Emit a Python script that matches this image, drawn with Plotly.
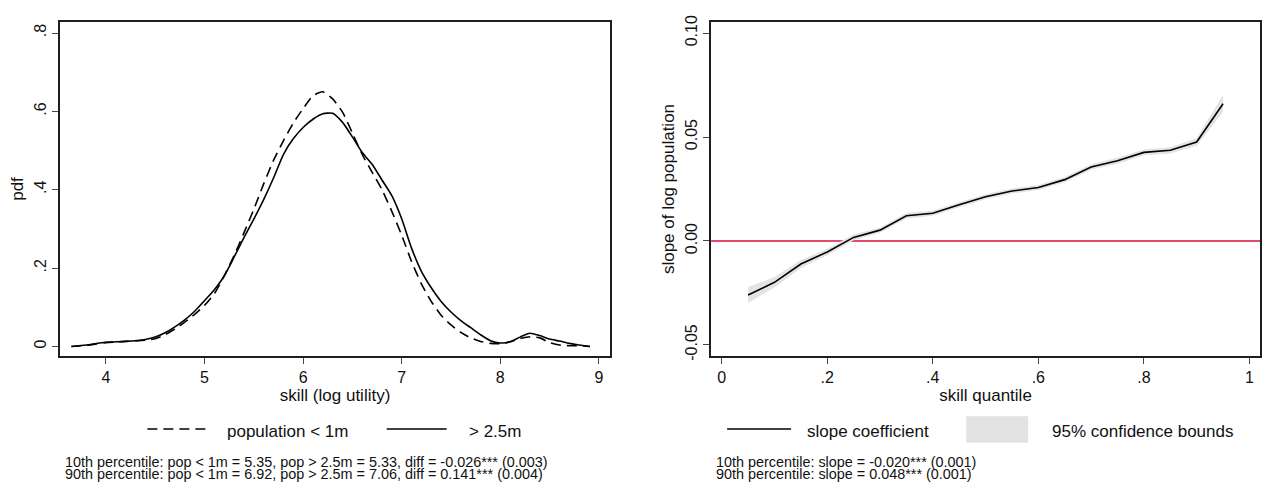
"""Two-panel figure: skill density by city size and slope of log population by skill quantile."""

from plotly import graph_objects as go

# ---- left panel: kernel densities of skill (log utility) ----
skill_grid = [3.65, 3.8, 4.0, 4.2, 4.4, 4.5, 4.6, 4.7, 4.8, 4.9,
              5.0, 5.1, 5.2, 5.3, 5.4, 5.5, 5.6, 5.7, 5.8, 5.9,
              6.0, 6.1, 6.2, 6.3, 6.4, 6.5, 6.6, 6.7, 6.8, 6.9,
              7.0, 7.1, 7.2, 7.3, 7.4, 7.5, 7.6, 7.7, 7.8, 7.9,
              8.0, 8.1, 8.2, 8.3, 8.4, 8.5, 8.6, 8.7, 8.8, 8.91]
pdf_small = [0.0, 0.003, 0.010, 0.013, 0.016, 0.020, 0.030, 0.045, 0.062, 0.082,
             0.105, 0.135, 0.180, 0.232, 0.290, 0.350, 0.415, 0.475, 0.525, 0.570,
             0.607, 0.640, 0.650, 0.632, 0.598, 0.545, 0.490, 0.445, 0.400, 0.345,
             0.284, 0.217, 0.160, 0.115, 0.080, 0.055, 0.036, 0.022, 0.013, 0.008,
             0.007, 0.012, 0.020, 0.025, 0.022, 0.010, 0.004, 0.002, 0.002, 0.0]
pdf_large = [0.0, 0.004, 0.011, 0.013, 0.018, 0.024, 0.035, 0.050, 0.068, 0.090,
             0.117, 0.145, 0.180, 0.228, 0.278, 0.325, 0.375, 0.430, 0.490, 0.530,
             0.559, 0.580, 0.594, 0.595, 0.572, 0.535, 0.495, 0.465, 0.425, 0.385,
             0.326, 0.251, 0.192, 0.150, 0.115, 0.088, 0.066, 0.048, 0.030, 0.015,
             0.009, 0.012, 0.024, 0.034, 0.028, 0.019, 0.014, 0.008, 0.004, 0.0]

# ---- right panel: quantile slopes with 95% bounds ----
quantiles = [0.05, 0.10, 0.15, 0.20, 0.25, 0.30, 0.35, 0.40, 0.45, 0.50,
             0.55, 0.60, 0.65, 0.70, 0.75, 0.80, 0.85, 0.90, 0.95]
slope = [-0.0260, -0.0199, -0.0111, -0.0053, 0.0017, 0.0052, 0.0121, 0.0133, 0.0174, 0.0213,
         0.0240, 0.0257, 0.0295, 0.0356, 0.0386, 0.0426, 0.0436, 0.0476, 0.0660]
slope_lo = [-0.0298, -0.0224, -0.0130, -0.0069, 0.0003, 0.0039, 0.0108, 0.0121, 0.0162, 0.0201,
            0.0228, 0.0245, 0.0282, 0.0343, 0.0372, 0.0412, 0.0421, 0.0458, 0.0620]
slope_hi = [-0.0222, -0.0174, -0.0092, -0.0037, 0.0031, 0.0065, 0.0134, 0.0145, 0.0186, 0.0225,
            0.0252, 0.0269, 0.0308, 0.0369, 0.0400, 0.0440, 0.0451, 0.0494, 0.0702]

# ---- ticks and text ----
left_xticks = [4, 5, 6, 7, 8, 9]
left_yticks = [0, 0.2, 0.4, 0.6, 0.8]
left_ytext = ["0", ".2", ".4", ".6", ".8"]
right_xticks = [0, 0.2, 0.4, 0.6, 0.8, 1]
right_xtext = ["0", ".2", ".4", ".6", ".8", "1"]
right_yticks = [-0.05, 0, 0.05, 0.10]
right_ytext = ["-0.05", "0.00", "0.05", "0.10"]

notes_left = [
    "10th percentile: pop &lt; 1m = 5.35, pop &gt; 2.5m = 5.33, diff = -0.026*** (0.003)",
    "90th percentile: pop &lt; 1m = 6.92, pop &gt; 2.5m = 7.06, diff = 0.141*** (0.004)",
]
notes_right = [
    "10th percentile: slope = -0.020*** (0.001)",
    "90th percentile: slope = 0.048*** (0.001)",
]

W, H = 1262, 484
FONT = "Liberation Sans, Arial, Helvetica, sans-serif"
BAND = "#e3e3e3"


def px(x):
    return x / W


def py(y):
    return 1 - y / H


def axis_style(**kw):
    base = dict(
        showline=True, mirror=True, linecolor="#1e1e1e", linewidth=1.5,
        ticks="outside", ticklen=6, tickwidth=1.2, tickcolor="#444",
        showgrid=False, zeroline=False,
        tickfont=dict(size=16, color="#111"),
        title_font=dict(size=17, color="#111"),
    )
    base.update(kw)
    return base


fig = go.Figure()

fig.add_trace(go.Scatter(
    x=skill_grid, y=pdf_small, mode="lines", xaxis="x", yaxis="y",
    line=dict(color="black", width=1.6, dash="10px,6px", shape="spline", smoothing=0.6),
    showlegend=False,
))
fig.add_trace(go.Scatter(
    x=skill_grid, y=pdf_large, mode="lines", xaxis="x", yaxis="y",
    line=dict(color="black", width=1.6, shape="spline", smoothing=0.6),
    showlegend=False,
))

fig.add_trace(go.Scatter(
    x=quantiles, y=slope_hi, mode="lines", xaxis="x2", yaxis="y2",
    line=dict(width=0, color=BAND), showlegend=False,
))
fig.add_trace(go.Scatter(
    x=quantiles, y=slope_lo, mode="lines", xaxis="x2", yaxis="y2",
    line=dict(width=0, color=BAND), fill="tonexty", fillcolor=BAND, showlegend=False,
))
fig.add_trace(go.Scatter(
    x=quantiles, y=slope, mode="lines", xaxis="x2", yaxis="y2",
    line=dict(color="black", width=1.6), showlegend=False,
))

ydom = [py(357.7), py(16)]
fig.update_layout(
    width=W, height=H,
    margin=dict(l=0, r=0, t=0, b=0),
    paper_bgcolor="white", plot_bgcolor="white",
    font=dict(family=FONT, color="#111"),
    xaxis=axis_style(domain=[px(60), px(610.7)], range=[3.534, 9.115],
                     tickvals=left_xticks, anchor="y",
                     title=dict(text="skill (log utility)", standoff=4)),
    yaxis=axis_style(domain=ydom, range=[-0.025, 0.829],
                     tickvals=left_yticks, ticktext=left_ytext, tickangle=-90,
                     anchor="x", title=dict(text="pdf", standoff=4)),
    xaxis2=axis_style(domain=[px(711.7), px(1261)], range=[-0.02, 1.02],
                      tickvals=right_xticks, ticktext=right_xtext, anchor="y2",
                      title=dict(text="skill quantile", standoff=4)),
    yaxis2=axis_style(domain=ydom, range=[-0.0555, 0.1055],
                      tickvals=right_yticks, ticktext=right_ytext, tickangle=-90,
                      anchor="x2", title=dict(text="slope of log population", standoff=4)),
)

# zero reference line on the right panel
fig.add_shape(type="line", xref="x2 domain", yref="y2", x0=0, x1=1, y0=0, y1=0,
              line=dict(color="#d6103c", width=1.5), layer="below")

# legends drawn by hand, Stata style
LEG_Y = 432
legend_lines = [
    (147.5, 207.6, "10px,6px"),
    (387, 447, "solid"),
    (727.7, 791.7, "solid"),
]
for x0, x1, dash in legend_lines:
    fig.add_shape(type="line", xref="paper", yref="paper",
                  x0=px(x0), x1=px(x1), y0=py(LEG_Y), y1=py(LEG_Y),
                  line=dict(color="black", width=1.6, dash=dash))
fig.add_shape(type="rect", xref="paper", yref="paper",
              x0=px(967), x1=px(1029), y0=py(446), y1=py(419),
              fillcolor=BAND, line=dict(width=0))

legend_text = [
    (225, "population &lt; 1m"),
    (467, "&gt; 2.5m"),
    (806, "slope coefficient"),
    (1051, "95% confidence bounds"),
]
for x, txt in legend_text:
    fig.add_annotation(text=txt, xref="paper", yref="paper", x=px(x), y=py(LEG_Y + 2),
                       xanchor="left", yanchor="middle", showarrow=False,
                       font=dict(size=17, color="#111"))

for i, (l_txt, r_txt) in enumerate(zip(notes_left, notes_right)):
    y = py(466 + 12 * i)
    fig.add_annotation(text=l_txt, xref="paper", yref="paper", x=px(63), y=y,
                       xanchor="left", yanchor="middle", showarrow=False,
                       font=dict(size=14.4, color="#111"))
    fig.add_annotation(text=r_txt, xref="paper", yref="paper", x=px(715), y=y,
                       xanchor="left", yanchor="middle", showarrow=False,
                       font=dict(size=14.4, color="#111"))

# drop the browser's default body margin so the figure sits at the page origin
fig.write_html("out.html", config={"displayModeBar": False},
               post_script="document.body.style.margin = '0px';")
